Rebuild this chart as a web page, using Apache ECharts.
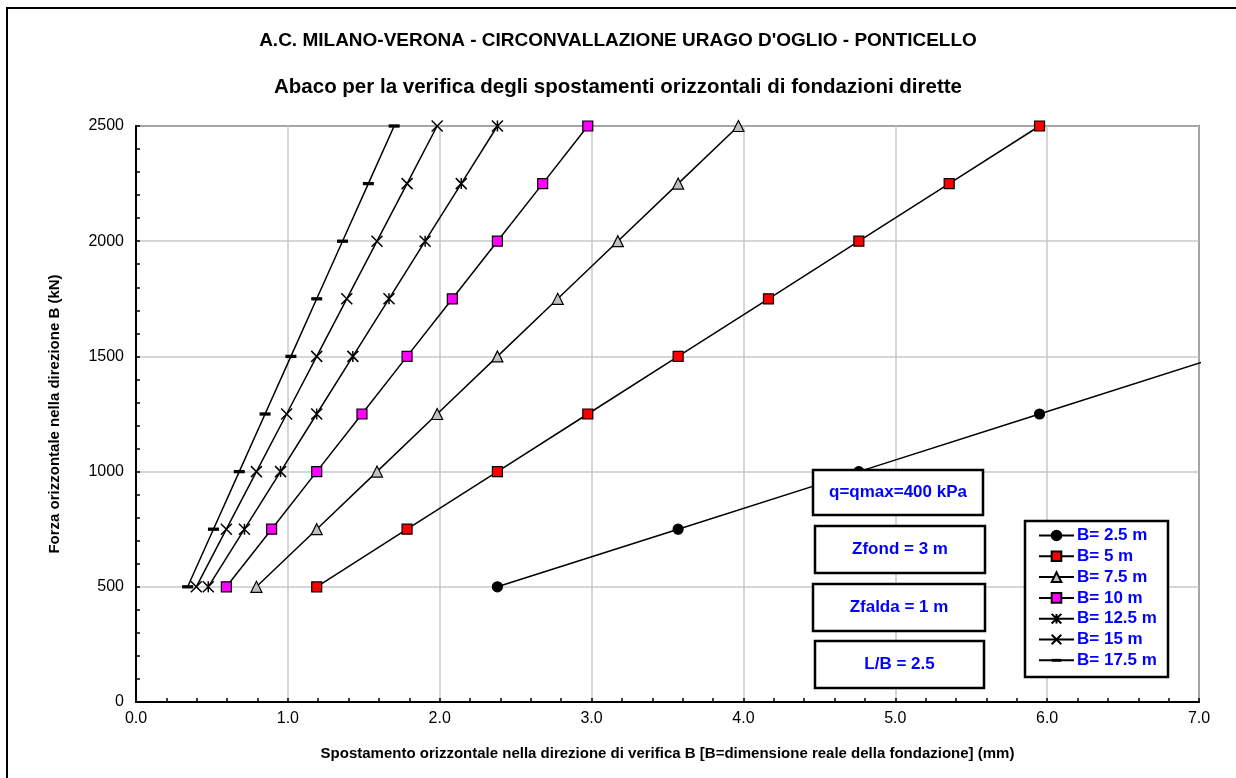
<!DOCTYPE html>
<html>
<head>
<meta charset="utf-8">
<script src="https://cdn.jsdelivr.net/npm/echarts@6/dist/echarts.min.js"></script>
<style>
  html, body { margin: 0; padding: 0; background: #fff; }
  #chart { width: 1236px; height: 778px; }
</style>
</head>
<body>
<div id="chart"></div>
<script>
// Horizontal force levels (kN)
const forces = [500, 750, 1000, 1250, 1500, 1750, 2000, 2250, 2500];
const forcesB25 = [500, 750, 1000, 1250, 1500];

// Horizontal displacement (mm) for each foundation width B
const dispB25  = [2.38, 3.57, 4.76, 5.95, 7.14];
const dispB5   = [1.19, 1.785, 2.38, 2.975, 3.57, 4.165, 4.76, 5.355, 5.95];
const dispB75  = [0.793, 1.19, 1.587, 1.983, 2.38, 2.777, 3.173, 3.57, 3.967];
const dispB10  = [0.595, 0.893, 1.19, 1.488, 1.785, 2.083, 2.38, 2.678, 2.975];
const dispB125 = [0.476, 0.714, 0.952, 1.19, 1.428, 1.666, 1.904, 2.142, 2.38];
const dispB15  = [0.397, 0.595, 0.793, 0.992, 1.19, 1.388, 1.587, 1.785, 1.983];
const dispB175 = [0.34, 0.51, 0.68, 0.85, 1.02, 1.19, 1.36, 1.53, 1.70];

const seriesNames = ['B= 2.5 m', 'B= 5 m', 'B= 7.5 m', 'B= 10 m', 'B= 12.5 m', 'B= 15 m', 'B= 17.5 m'];

const titleText = "A.C. MILANO-VERONA - CIRCONVALLAZIONE URAGO D'OGLIO - PONTICELLO";
const subtitleText = 'Abaco per la verifica degli spostamenti orizzontali di fondazioni dirette';
const xName = 'Spostamento orizzontale nella direzione di verifica B [B=dimensione reale della fondazione] (mm)';
const yName = 'Forza orizzontale nella direzione B (kN)';
const noteTexts = ['q=qmax=400 kPa', 'Zfond = 3 m', 'Zfalda = 1 m', 'L/B = 2.5'];

const FONT = '"Liberation Sans", Arial, Helvetica, sans-serif';

function pairs(xs, ys) { return xs.map((x, i) => [x, ys[i]]); }

// Marker shapes: asterisk, cross and a short horizontal dash (centred in a square box)
const ASTERISK = 'path://M0,0L10,10M10,0L0,10M5,0L5,10';
const CROSS = 'path://M0,0L10,10M10,0L0,10';
const DASH = 'path://M0,0M0,3.5L10,3.5L10,6.5L0,6.5ZM10,10';

function lineSeries(name, data, symbol, size, fill, stroke) {
  return {
    name: name,
    type: 'line',
    data: data,
    symbol: symbol,
    symbolSize: size,
    showAllSymbol: true,
    clip: true,
    lineStyle: { color: '#000', width: 1.5 },
    itemStyle: { color: fill, borderColor: stroke || '#000', borderWidth: 1.2 },
    emphasis: { disabled: true },
    animation: false,
    z: 3
  };
}

const series = [
  lineSeries(seriesNames[0], pairs(dispB25, forcesB25), 'circle', 10, '#000', '#000'),
  lineSeries(seriesNames[1], pairs(dispB5, forces), 'rect', 10, '#ff0000'),
  lineSeries(seriesNames[2], pairs(dispB75, forces), 'triangle', 11, '#c0c0c0'),
  lineSeries(seriesNames[3], pairs(dispB10, forces), 'rect', 10, '#ff00ff'),
  lineSeries(seriesNames[4], pairs(dispB125, forces), ASTERISK, 11, 'rgba(0,0,0,0)'),
  lineSeries(seriesNames[5], pairs(dispB15, forces), CROSS, 11, 'rgba(0,0,0,0)'),
  lineSeries(seriesNames[6], pairs(dispB175, forces), DASH, 11, '#000')
];
series[4].itemStyle.borderWidth = 1.5;
series[5].itemStyle.borderWidth = 1.5;
series[6].itemStyle.borderWidth = 0;

// Parameter boxes drawn over the plot
const noteBoxes = [
  { x: 813, y: 470, w: 170, h: 45 },
  { x: 815, y: 526, w: 170, h: 47 },
  { x: 813, y: 584, w: 172, h: 47 },
  { x: 815, y: 641, w: 169, h: 47 }
];
const graphics = [
  // outer chart frame
  { type: 'rect', shape: { x: 7, y: 8, width: 1240, height: 790 },
    style: { fill: 'none', stroke: '#000', lineWidth: 2 }, z: 0, silent: true },
  // legend frame
  { type: 'rect', shape: { x: 1025, y: 521, width: 143, height: 156 },
    style: { fill: '#fff', stroke: '#000', lineWidth: 2.5 }, z: 8, silent: true }
];
noteBoxes.forEach((b, i) => {
  graphics.push({
    type: 'group', z: 20, silent: true,
    children: [
      { type: 'rect', shape: { x: b.x, y: b.y, width: b.w, height: b.h },
        style: { fill: '#fff', stroke: '#000', lineWidth: 2.5 }, z: 20 },
      { type: 'text', x: b.x + b.w / 2, y: b.y + b.h / 2, z: 21,
        style: { text: noteTexts[i], fill: '#0000ff', font: 'bold 17px ' + FONT,
                 align: 'center', verticalAlign: 'middle' } }
    ]
  });
});

// One legend per entry so the row pitch can be set exactly
const legends = seriesNames.map((name, i) => ({
  data: [name],
  orient: 'vertical',
  left: 1038, top: 527 + i * 20.8,
  padding: 0,
  itemWidth: 35, itemHeight: 12,
  selectedMode: false,
  z: 10,
  textStyle: { fontFamily: FONT, fontWeight: 'bold', fontSize: 17, lineHeight: 14,
               color: '#0000ff', padding: [0, 0, 0, -2] }
}));

const chart = echarts.init(document.getElementById('chart'), null, { renderer: 'canvas' });
chart.setOption({
  backgroundColor: '#fff',
  animation: false,
  title: [
    { text: titleText, left: 'center', top: 26,
      textStyle: { fontFamily: FONT, fontWeight: 'bold', fontSize: 19, color: '#000' } },
    { text: subtitleText, left: 'center', top: 72,
      textStyle: { fontFamily: FONT, fontWeight: 'bold', fontSize: 20.5, color: '#000' } }
  ],
  grid: { left: 136, right: 37, top: 126, bottom: 76, show: true,
          borderColor: '#000', borderWidth: 1.5, backgroundColor: 'transparent' },
  xAxis: {
    type: 'value', min: 0, max: 7, interval: 1, splitNumber: 7,
    name: xName, nameLocation: 'middle', nameGap: 44,
    nameTextStyle: { fontFamily: FONT, fontWeight: 'bold', fontSize: 15, color: '#000' },
    axisLine: { onZero: false, lineStyle: { color: '#000', width: 2 } },
    axisTick: { inside: true, length: 4, lineStyle: { color: '#000', width: 1.5 } },
    minorTick: { show: true, splitNumber: 5, length: 4, lineStyle: { color: '#000', width: 1.5 } },
    axisLabel: { margin: 9, fontFamily: FONT, fontSize: 16, color: '#000',
                 formatter: v => v.toFixed(1) },
    splitLine: { show: true, lineStyle: { color: '#c8c8c8', width: 1.5 } }
  },
  yAxis: {
    type: 'value', min: 0, max: 2500, interval: 500,
    name: yName, nameLocation: 'middle', nameGap: 74, nameRotate: 90,
    nameTextStyle: { fontFamily: FONT, fontWeight: 'bold', fontSize: 15, color: '#000' },
    axisLine: { onZero: false, lineStyle: { color: '#000', width: 2 } },
    axisTick: { inside: true, length: 4, lineStyle: { color: '#000', width: 1.5 } },
    minorTick: { show: true, splitNumber: 5, length: 4, lineStyle: { color: '#000', width: 1.5 } },
    axisLabel: { margin: 12, fontFamily: FONT, fontSize: 16, color: '#000',
                 formatter: v => String(v) },
    splitLine: { show: true, lineStyle: { color: '#c8c8c8', width: 1.5 } }
  },
  legend: legends,
  graphic: graphics,
  series: series
});
</script>
</body>
</html>
